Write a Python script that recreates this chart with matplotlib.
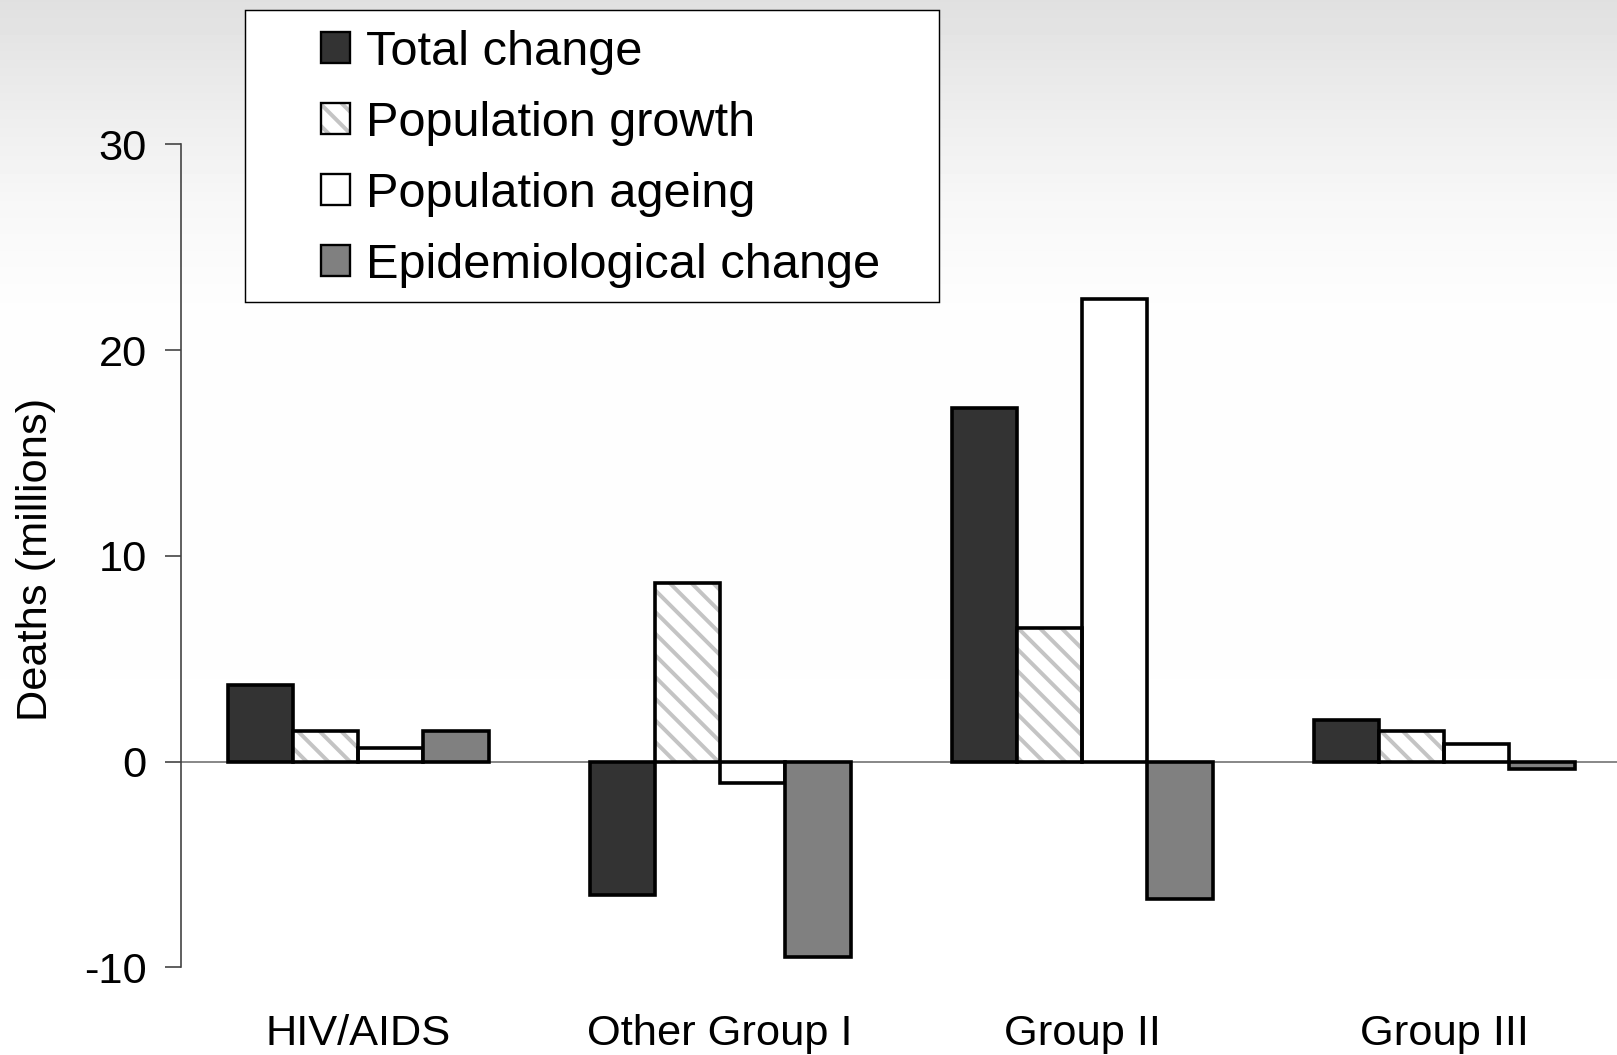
import matplotlib.pyplot as plt
import numpy as np
from matplotlib.legend_handler import HandlerTuple
from matplotlib.patches import Patch, Rectangle

categories = ["HIV/AIDS", "Other Group I", "Group II", "Group III"]
series = ["Total change", "Population growth", "Population ageing", "Epidemiological change"]
total_change = [3.7, -6.5, 17.2, 2.0]
population_growth = [1.5, 8.7, 6.5, 1.5]
population_ageing = [0.65, -1.05, 22.5, 0.85]
epidemiological_change = [1.5, -9.5, -6.7, -0.35]
yticks = [-10, 0, 10, 20, 30]

plt.rcParams["font.family"] = ["Liberation Sans", "DejaVu Sans"]
plt.rcParams["axes.unicode_minus"] = False
plt.rcParams["hatch.linewidth"] = 2.2

DPI = 130
W, H = 1617, 1055
fig = plt.figure(figsize=(W / DPI, H / DPI), dpi=DPI)

# soft grey fade at the top of the slide
bg = fig.add_axes([0, 0, 1, 1], zorder=-1)
rows = np.arange(H)
shade = np.interp(rows, [0, 100, 200, 300, H], [224, 236, 247, 253, 255]) / 255
bg.imshow(np.tile(shade[:, None], (1, 4)), cmap="gray", vmin=0, vmax=1,
          aspect="auto", extent=[0, 1, 0, 1])
bg.set_axis_off()

ax = fig.add_axes([180.5 / W, 87.7 / H, 1448 / W, 822.9 / H])
ax.set_facecolor("none")

x = np.arange(len(categories))
width = 0.18
lw = 2.0
fills = ["#333333", "white", "white", "#808080"]
hatch_color = "#c4c4c4"

for i, vals in enumerate([total_change, population_growth,
                          population_ageing, epidemiological_change]):
    pos = x + (i - 1.5) * width
    if i == 1:
        ax.bar(pos, vals, width, color="white", edgecolor=hatch_color,
               hatch="\\\\", linewidth=0, zorder=3)
        ax.bar(pos, vals, width, fill=False, edgecolor="black",
               linewidth=lw, zorder=4)
    else:
        ax.bar(pos, vals, width, color=fills[i], edgecolor="black",
               linewidth=lw, zorder=3)

ax.axhline(0, color="#707070", linewidth=0.9, zorder=2)

ax.set_xlim(-0.491, 3.509)
ax.set_ylim(-10, 30)
ax.set_yticks(yticks)
ax.set_xticks(x, categories)
for side in ["top", "right", "bottom"]:
    ax.spines[side].set_visible(False)
ax.spines["left"].set_color("#404040")
ax.spines["left"].set_linewidth(0.9)
ax.tick_params(axis="y", direction="out", length=8.6, width=0.9,
               color="#404040", pad=10, labelsize=24)
ax.tick_params(axis="x", length=0, pad=26, labelsize=24)

fig.text(36 / W, 496 / H, "Deaths (millions)", rotation=90,
         ha="center", va="center", fontsize=24)

# legend inside a plain rectangular frame
frame = Rectangle((245.4 / W, 1 - 302 / H), (939.5 - 245.4) / W, (302 - 10.3) / H,
                  transform=fig.transFigure, facecolor="white",
                  edgecolor="black", linewidth=0.8, zorder=4.5)
fig.add_artist(frame)

handles = [
    Patch(facecolor=fills[0], edgecolor="black", linewidth=1.3),
    (Patch(facecolor="white", edgecolor=hatch_color, hatch="\\\\", linewidth=0),
     Patch(fill=False, edgecolor="black", linewidth=1.3)),
    Patch(facecolor=fills[2], edgecolor="black", linewidth=1.3),
    Patch(facecolor=fills[3], edgecolor="black", linewidth=1.3),
]
fig.legend(handles, series, loc="upper left",
           bbox_to_anchor=(321 / W, 1 - 30 / H),
           bbox_transform=fig.transFigure, frameon=False, fontsize=27,
           handlelength=0.6, handleheight=0.6, handletextpad=0.33,
           labelspacing=0.53, borderpad=0, borderaxespad=0,
           handler_map={tuple: HandlerTuple(ndivide=1)})

fig.savefig("out.png", dpi=DPI)
